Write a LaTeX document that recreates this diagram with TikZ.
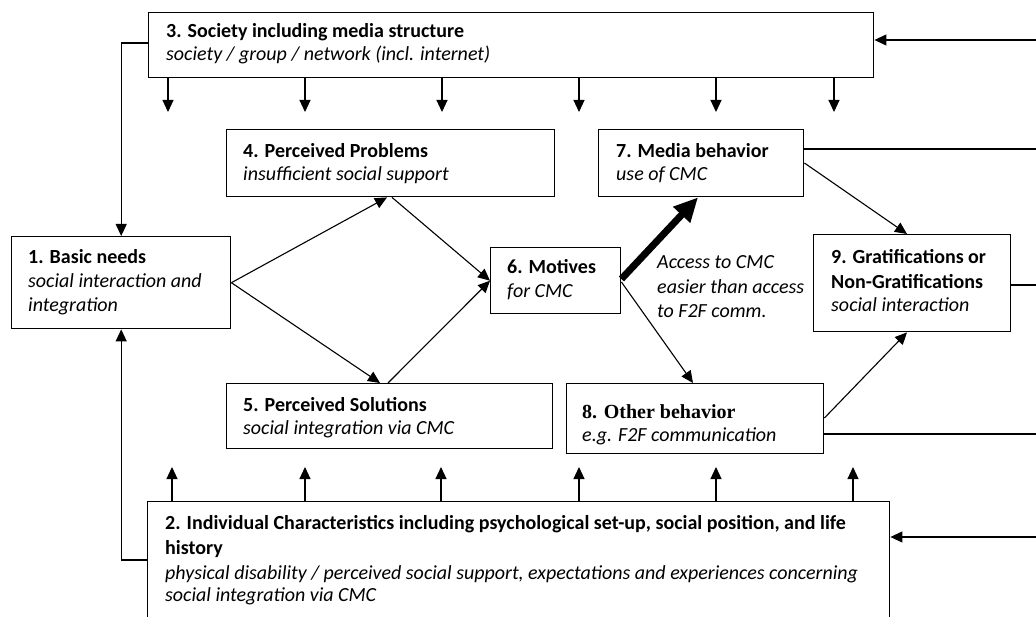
\documentclass[tikz,border=0pt]{standalone}
\usepackage{fontspec}
\setmainfont{Carlito}
\newfontfamily\serifbold{Liberation Serif}
\usetikzlibrary{arrows.meta}
\begin{document}
\begin{tikzpicture}[x=1pt,y=-1pt,
 box/.style={draw,line width=1.4pt,inner sep=0pt,anchor=north west},
 txt/.style={anchor=base west,inner sep=0pt,font=\fontsize{20}{24}\selectfont},
 arr/.style={line width=1.1pt,-{Triangle[length=12pt,width=11pt]}},
 thickarr/.style={line width=7pt,-{Triangle[length=24pt,width=22pt]}},
 ln/.style={line width=1.1pt}]
\useasboundingbox (0,0) rectangle (1036,617);
\clip (0,0) rectangle (1036,617);
% boxes
\node[box,minimum width=725pt,minimum height=65pt] (n3) at (148,12) {};
\node[box,minimum width=328pt,minimum height=67pt] (n4) at (226,129) {};
\node[box,minimum width=205pt,minimum height=67pt] (n7) at (598,129) {};
\node[box,minimum width=219pt,minimum height=92pt] (n1) at (11,236) {};
\node[box,minimum width=130pt,minimum height=66pt] (n6) at (490,247) {};
\node[box,minimum width=197pt,minimum height=97pt] (n9) at (813,234) {};
\node[box,minimum width=326pt,minimum height=65pt] (n5) at (226,383) {};
\node[box,minimum width=257pt,minimum height=70pt] (n8) at (566,383) {};
\node[box,minimum width=742pt,minimum height=140pt] (n2) at (147,501) {};
% texts
\node[txt] (t3a) at (166,38) {\bfseries 3. Society including media structure};
\node[txt] (t3b) at (166,61) {\itshape society / group / network (incl. internet)};
\node[txt] (t4a) at (243,158) {\bfseries 4. Perceived Problems};
\node[txt] (t4b) at (243,181) {\itshape insufficient social support};
\node[txt] (t7a) at (616,158) {\bfseries 7. Media behavior};
\node[txt] (t7b) at (616,181) {\itshape use of CMC};
\node[txt] (t1a) at (28,264) {\bfseries 1. Basic needs};
\node[txt] (t1b) at (28,288) {\itshape social interaction and};
\node[txt] (t1c) at (28,312) {\itshape integration};
\node[txt] (t6a) at (507,274) {\bfseries 6. Motives};
\node[txt] (t6b) at (507,298) {\itshape for CMC};
\node[txt] (la) at (657,269) {\itshape Access to CMC};
\node[txt] (lb) at (657,294) {\itshape easier than access};
\node[txt] (lc) at (657,318) {\itshape to F2F comm.};
\node[txt] (t9a) at (831,264) {\bfseries 9. Gratifications or};
\node[txt] (t9b) at (831,289) {\bfseries Non-Gratifications};
\node[txt] (t9c) at (831,312) {\itshape social interaction};
\node[txt] (t5a) at (243,411) {\bfseries 5. Perceived Solutions};
\node[txt] (t5b) at (243,435) {\itshape social integration via CMC};
\node[txt,font=\serifbold\bfseries\fontsize{20}{24}\selectfont] (t8a) at (582,418) {8. Other behavior};
\node[txt] (t8b) at (582,441) {\itshape e.g. F2F communication};
\node[txt] (t2a) at (165,529) {\bfseries 2. Individual Characteristics including psychological set-up, social position, and life};
\node[txt] (t2b) at (165,554) {\bfseries history};
\node[txt] (t2c) at (165,579) {\itshape physical disability / perceived social support, expectations and experiences concerning};
\node[txt] (t2d) at (165,601) {\itshape social integration via CMC};
% society arrows down
\foreach \x [count=\i] in {168,305,442,579,716,834} {
  \coordinate (d\i) at (\x,112);
  \draw[arr] (n3.south -| d\i) -- (d\i);
}
% individual arrows up
\foreach \x [count=\i] in {172,305,441,579,716,853} {
  \coordinate (u\i) at (\x,467);
  \draw[arr] (n2.north -| u\i) -- (u\i);
}
% left loops
\draw[arr] (n3.west |- 0,43) -| (n1.north);
\draw[arr] (n2.west |- 0,560) -| (n1.south);
% right side
\coordinate (r3) at (1036,40);
\coordinate (r7) at (1036,149);
\coordinate (r9) at (1036,285);
\coordinate (r8) at (1036,434);
\coordinate (r2) at (1036,537);
\draw[arr] (r3) -- (n3.east |- r3);
\draw[ln] (n7.east |- r7) -- (r7);
\draw[ln] (n9.east |- r9) -- (r9);
\draw[ln] (n8.east |- r8) -- (r8);
\draw[arr] (r2) -- (n2.east |- r2);
% inner connectors
\draw[arr] (n1.east) -- (n4.south -| 387,0);
\draw[arr] (n1.east) -- (n5.north -| 380,0);
\draw[arr] (n4.south -| 392,0) -- (n6.west);
\draw[arr] (n5.north -| 388,0) -- (n6.west);
\draw[thickarr] (n6.east |- 0,279) -- (n7.south -| 698,0);
\draw[arr] (n6.east |- 0,282) -- (n8.north -| 693,0);
\draw[arr] (n7.east |- 0,163) -- (n9.north -| 907,0);
\draw[arr] (n8.east |- 0,418) -- (n9.south -| 907,0);
\end{tikzpicture}
\end{document}
